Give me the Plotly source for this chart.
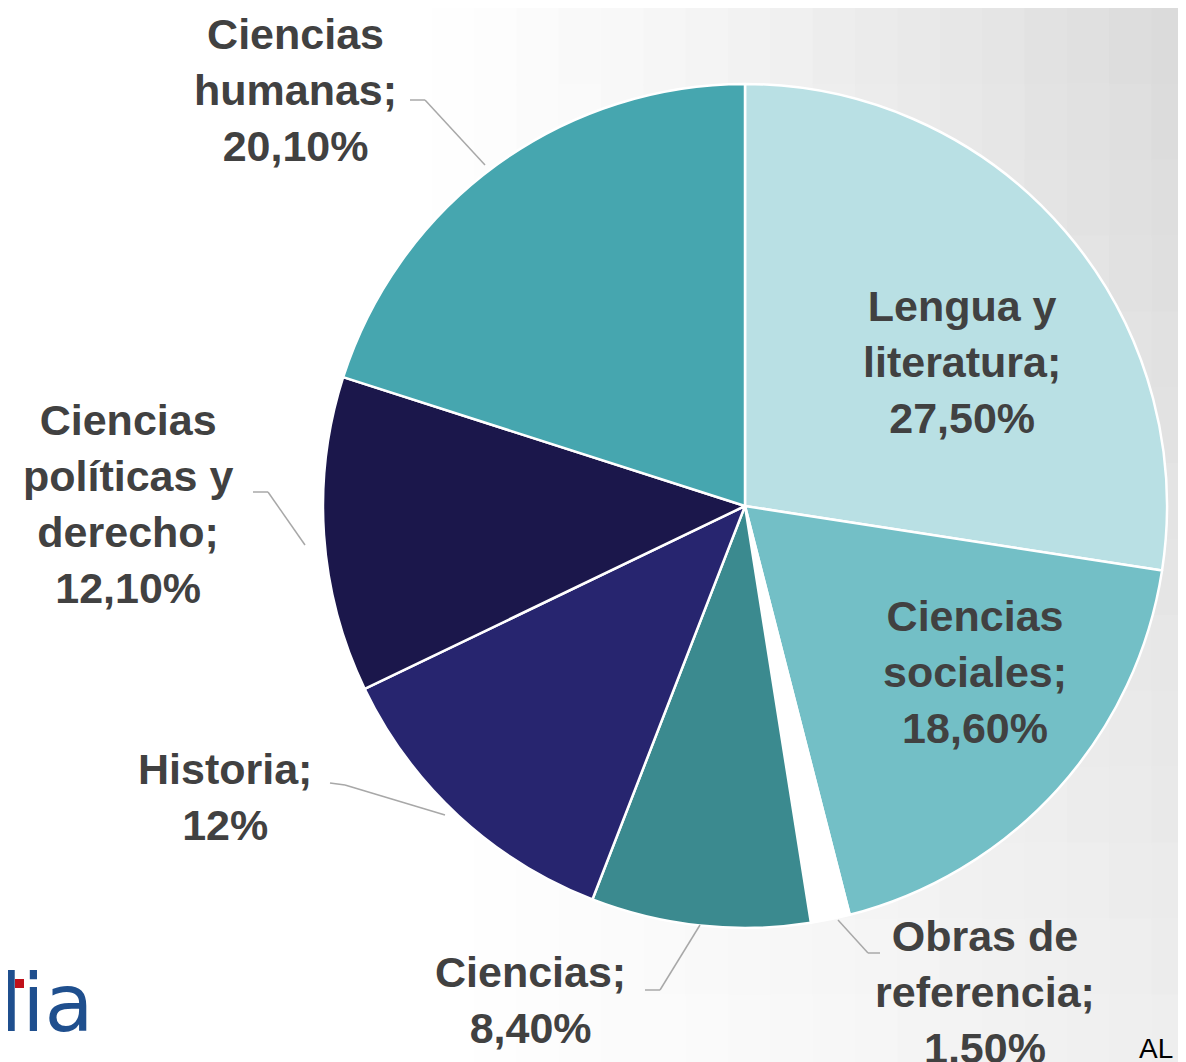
import plotly.graph_objects as go

categories = ["Lengua y literatura", "Ciencias sociales", "Obras de referencia",
              "Ciencias", "Historia", "Ciencias políticas y derecho", "Ciencias humanas"]
values = [27.5, 18.6, 1.5, 8.4, 12.0, 12.1, 20.1]
label_texts = ["Lengua y<br>literatura;<br>27,50%",
               "Ciencias<br>sociales;<br>18,60%",
               "Obras de<br>referencia;<br>1,50%",
               "Ciencias;<br>8,40%",
               "Historia;<br>12%",
               "Ciencias<br>políticas y<br>derecho;<br>12,10%",
               "Ciencias<br>humanas;<br>20,10%"]
colors = ["#B9E0E4", "#73BFC6", "#FFFFFF", "#3B8A8F", "#27256F", "#1B174B", "#46A6AF"]

W, H = 1186, 1062
OFF = 8  # page body margin offset
cx, cy, R = 745, 506, 422


def px(x):
    return (x - OFF) / W


def py(y):
    return 1 - (y - OFF) / H


fig = go.Figure()

# soft slide background gradient (white on the left, light grey towards top-right)
nx, ny = 28, 14
for i in range(nx):
    xf = (i + 0.5) / nx
    for j in range(ny):
        yf = (j + 0.5) / ny  # 0 at top, 1 at bottom
        fx = max(0.0, (xf - 0.35) / 0.65)
        depth = 38 * fx ** 1.2 * (1 - 0.55 * yf)
        g = int(round(255 - depth))
        fig.add_shape(type="rect", xref="paper", yref="paper",
                      x0=i / nx, x1=(i + 1) / nx + 0.002,
                      y0=1 - (j + 1) / ny - 0.002, y1=1 - j / ny,
                      fillcolor=f"rgb({g},{g},{g})", line_width=0, layer="below")

fig.add_trace(go.Pie(
    labels=categories, values=values, sort=False, direction="clockwise",
    rotation=0, textinfo="none", hoverinfo="label+percent",
    marker=dict(colors=colors, line=dict(color="#FFFFFF", width=2.5)),
    domain=dict(x=[px(cx - R), px(cx + R)],
                y=[py(cy + R), py(cy - R)]),
    showlegend=False,
))

label_pos = [(962, 362), (975, 672), (985, 992), (530, 1000), (225, 797), (128, 504), (295, 90)]
for t, (x, y) in zip(label_texts, label_pos):
    fig.add_annotation(x=px(x), y=py(y), xref="paper", yref="paper",
                       text=f"<b>{t}</b>", showarrow=False, xanchor="center", yanchor="middle",
                       font=dict(family="Liberation Sans, Arial", size=43, color="#414141"),
                       align="center")

leaders = [
    [(410, 100), (425, 100), (485, 165)],
    [(253, 492), (268, 492), (305, 545)],
    [(330, 783), (345, 785), (445, 815)],
    [(645, 990), (660, 990), (700, 925)],
    [(880, 953), (868, 953), (838, 920)],
]
for pts in leaders:
    for (x0, y0), (x1, y1) in zip(pts[:-1], pts[1:]):
        fig.add_shape(type="line", xref="paper", yref="paper",
                      x0=px(x0), y0=py(y0), x1=px(x1), y1=py(y1),
                      line=dict(color="#A8A8A8", width=1.5))

# logo fragment and footer text
fig.add_annotation(x=px(-2), y=py(1003), xref="paper", yref="paper", text="lia",
                   showarrow=False, xanchor="left", yanchor="middle",
                   font=dict(family="DejaVu Sans", size=80, color="#1F4F8E"))
fig.add_shape(type="rect", xref="paper", yref="paper",
              x0=px(15), x1=px(24), y0=py(988), y1=py(979),
              fillcolor="#C0101A", line_width=0)
fig.add_annotation(x=px(1137), y=py(1048), xref="paper", yref="paper", text="AL",
                   showarrow=False, xanchor="left", yanchor="middle",
                   font=dict(family="Liberation Sans", size=28, color="#000000"))

fig.update_layout(width=W, height=H, margin=dict(l=0, r=0, t=0, b=0),
                  paper_bgcolor="#FFFFFF", plot_bgcolor="#FFFFFF")
fig.write_html("out.html")
